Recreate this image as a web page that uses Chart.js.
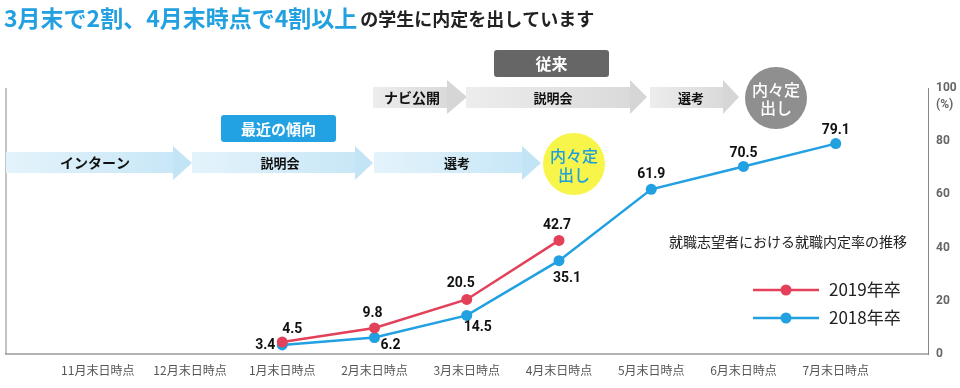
<!DOCTYPE html>
<html lang="ja">
<head>
<meta charset="utf-8">
<title>就職志望者における就職内定率の推移</title>
<script src="https://cdn.jsdelivr.net/npm/chart.js@4"></script>
<style>
  html, body { margin: 0; padding: 0; background: #fff; }
  #wrap { position: relative; width: 960px; height: 388px; }
</style>
</head>
<body>
<div id="wrap"><canvas id="chart" width="960" height="388"></canvas></div>
<script>
// 横軸の月（時点）
const months = ['11月末日時点', '12月末日時点', '1月末日時点', '2月末日時点', '3月末日時点',
  '4月末日時点', '5月末日時点', '6月末日時点', '7月末日時点'];

// 就職内定率（%）
const rate2019 = [null, null, 4.5, 9.8, 20.5, 42.7, null, null, null];
const rate2018 = [null, null, 3.4, 6.2, 14.5, 35.1, 61.9, 70.5, 79.1];

const seriesNames = ['2019年卒', '2018年卒'];
const yTicks = [0, 20, 40, 60, 80, 100];

// ラベル位置（点からのずれ）
const labelOffset2019 = [null, null, [10, -13], [-2, -14], [-6, -16], [-2, -15], null, null, null];
const labelOffset2018 = [null, null, [-17, 1], [16, 8], [11, 12], [8, 18], [0, -15], [0, -13], [0, -13]];

const RED = '#e3405a';
const BLUE = '#21a0e2';
const JP = '"Noto Sans CJK JP", "Noto Sans", sans-serif';
const NUM = '"Liberation Sans Narrow", "Roboto", sans-serif';

function toPoints(values) {
  return values.map((v, i) => (v == null ? null : { x: i, y: v })).filter(Boolean);
}

function arrow(ctx, x0, x1, tip, bodyTop, bodyBot, headTop, headBot, c0, c1, head) {
  const g = ctx.createLinearGradient(x0, 0, x1, 0);
  g.addColorStop(0, c0);
  g.addColorStop(1, c1);
  ctx.fillStyle = g;
  ctx.fillRect(x0, bodyTop, x1 - x0, bodyBot - bodyTop);
  ctx.fillStyle = head;
  ctx.beginPath();
  ctx.moveTo(x1, headTop);
  ctx.lineTo(tip, (headTop + headBot) / 2);
  ctx.lineTo(x1, headBot);
  ctx.closePath();
  ctx.fill();
}

function roundRect(ctx, x, y, w, h, r, color) {
  ctx.fillStyle = color;
  ctx.beginPath();
  ctx.roundRect(x, y, w, h, r);
  ctx.fill();
}

function text(ctx, str, x, y, font, color, align) {
  ctx.font = font;
  ctx.fillStyle = color;
  ctx.textAlign = align || 'center';
  ctx.textBaseline = 'middle';
  ctx.fillText(str, x, y);
}

const decorations = {
  id: 'decorations',
  beforeDatasetsDraw(chart) {
    const { ctx, chartArea } = chart;
    ctx.save();

    // タイトル
    ctx.font = 'bold 23px ' + JP;
    ctx.textBaseline = 'middle';
    ctx.textAlign = 'left';
    const blue = '3月末で2割、4月末時点で4割以上';
    ctx.fillStyle = '#23a0e0';
    ctx.fillText(blue, 4, 18, 356);
    const bw = Math.min(ctx.measureText(blue).width, 356);
    text(ctx, 'の学生に内定を出しています', 4 + bw + 3, 19, 'bold 18px ' + JP, '#222', 'left');

    // 左の枠線
    ctx.strokeStyle = '#888';
    ctx.lineWidth = 1;
    ctx.beginPath();
    ctx.moveTo(chartArea.left + 0.5, chartArea.top);
    ctx.lineTo(chartArea.left + 0.5, chartArea.bottom);
    ctx.stroke();

    // 最近の傾向（青い矢印）
    const bTop = 152, bBot = 173, hTop = 146, hBot = 180;
    arrow(ctx, 6, 173, 192, bTop, bBot, hTop, hBot, '#e4f3fb', '#c8e7f7', '#c3e4f5');
    arrow(ctx, 192, 355, 373, bTop, bBot, hTop, hBot, '#e4f3fb', '#c8e7f7', '#c3e4f5');
    arrow(ctx, 374, 522, 541, bTop, bBot, hTop, hBot, '#e4f3fb', '#c8e7f7', '#c3e4f5');
    text(ctx, 'インターン', 95, 163, 'bold 14px ' + JP, '#111');
    text(ctx, '説明会', 280, 163, 'bold 13px ' + JP, '#111');
    text(ctx, '選考', 457, 163, 'bold 13px ' + JP, '#111');
    roundRect(ctx, 221, 115, 115, 27, 3, '#22a2e2');
    text(ctx, '最近の傾向', 278.5, 129, 'bold 15px ' + JP, '#fff');

    ctx.fillStyle = '#f7f54a';
    ctx.beginPath();
    ctx.arc(574, 164, 31, 0, Math.PI * 2);
    ctx.fill();
    text(ctx, '内々定', 574, 156, '500 16px ' + JP, '#1e9fdc');
    text(ctx, '出し', 574, 175, '500 16px ' + JP, '#1e9fdc');

    // 従来（灰色の矢印）
    const gTop = 87, gBot = 108, ghTop = 80, ghBot = 114;
    arrow(ctx, 373, 447, 467, gTop, gBot, ghTop, ghBot, '#ededed', '#dadada', '#d6d6d6');
    arrow(ctx, 466, 630, 647, gTop, gBot, ghTop, ghBot, '#ededed', '#dadada', '#d6d6d6');
    arrow(ctx, 650, 723, 739, gTop, gBot, ghTop, ghBot, '#ededed', '#dadada', '#d6d6d6');
    text(ctx, 'ナビ公開', 412, 98, 'bold 14px ' + JP, '#111');
    text(ctx, '説明会', 553, 98, 'bold 13px ' + JP, '#111');
    text(ctx, '選考', 691, 98, 'bold 13px ' + JP, '#111');
    roundRect(ctx, 494, 50, 115, 27, 3, '#666');
    text(ctx, '従来', 551.5, 64, 'bold 16px ' + JP, '#fff');

    ctx.fillStyle = '#8f8f8f';
    ctx.beginPath();
    ctx.arc(776, 98, 31, 0, Math.PI * 2);
    ctx.fill();
    text(ctx, '内々定', 776, 90, '500 16px ' + JP, '#fff');
    text(ctx, '出し', 776, 108, '500 16px ' + JP, '#fff');

    // 凡例
    text(ctx, '就職志望者における就職内定率の推移', 907, 242, '14px ' + JP, '#222', 'right');
    [[RED, 290], [BLUE, 318]].forEach(([c, y], i) => {
      ctx.strokeStyle = c;
      ctx.lineWidth = 2.5;
      ctx.beginPath();
      ctx.moveTo(753, y);
      ctx.lineTo(819, y);
      ctx.stroke();
      ctx.fillStyle = c;
      ctx.beginPath();
      ctx.arc(786, y, 5.5, 0, Math.PI * 2);
      ctx.fill();
      text(ctx, seriesNames[i], 829, y, '17px ' + JP, '#222', 'left');
    });

    // 単位
    text(ctx, '(%)', chartArea.right + 8, 105, 'bold 12px ' + NUM, '#666', 'left');
    ctx.restore();
  },
  afterDatasetsDraw(chart) {
    const { ctx } = chart;
    ctx.save();
    const sets = [[rate2019, labelOffset2019], [rate2018, labelOffset2018]];
    sets.forEach(([vals, offs]) => {
      vals.forEach((v, i) => {
        if (v == null) return;
        const x = chart.scales.x.getPixelForValue(i);
        const y = chart.scales.y.getPixelForValue(v);
        text(ctx, v.toFixed(1), x + offs[i][0], y + offs[i][1], 'bold 14px ' + NUM, '#111');
      });
    });
    ctx.restore();
  }
};

new Chart(document.getElementById('chart'), {
  type: 'line',
  data: {
    datasets: [
      {
        label: seriesNames[0],
        data: toPoints(rate2019),
        borderColor: RED,
        backgroundColor: RED,
        borderWidth: 2.5,
        pointRadius: 5.5,
        pointBorderWidth: 0,
        pointBackgroundColor: RED,
        tension: 0,
      },
      {
        label: seriesNames[1],
        data: toPoints(rate2018),
        borderColor: BLUE,
        backgroundColor: BLUE,
        borderWidth: 2.5,
        pointRadius: 5.5,
        pointBorderWidth: 0,
        pointBackgroundColor: BLUE,
        tension: 0,
      },
    ],
  },
  options: {
    responsive: false,
    animation: false,
    layout: { padding: { top: 88, left: 2, right: 0, bottom: 0 } },
    plugins: {
      legend: { display: false },
      tooltip: { enabled: false },
    },
    scales: {
      x: {
        type: 'linear',
        min: -1,
        max: 9,
        grid: { display: false, drawTicks: false },
        border: { display: true, color: '#b4b4b4', width: 2 },
        afterBuildTicks: (scale) => {
          scale.ticks = months.map((m, i) => ({ value: i }));
        },
        afterFit: (scale) => { scale.height = 34; },
        ticks: {
          autoSkip: false,
          maxRotation: 0,
          padding: 9,
          color: '#555',
          font: { family: JP, size: 12 },
          callback: (value) => months[value],
        },
      },
      y: {
        position: 'right',
        min: 0,
        max: 100,
        grid: { display: false, drawTicks: false },
        border: { display: true, color: '#888', width: 1 },
        afterBuildTicks: (scale) => {
          scale.ticks = yTicks.map((v) => ({ value: v }));
        },
        afterFit: (scale) => { scale.width = 32; },
        ticks: {
          padding: 8,
          color: '#666',
          font: { family: NUM, size: 12, weight: 'bold' },
        },
      },
    },
  },
  plugins: [decorations],
});
</script>
</body>
</html>
